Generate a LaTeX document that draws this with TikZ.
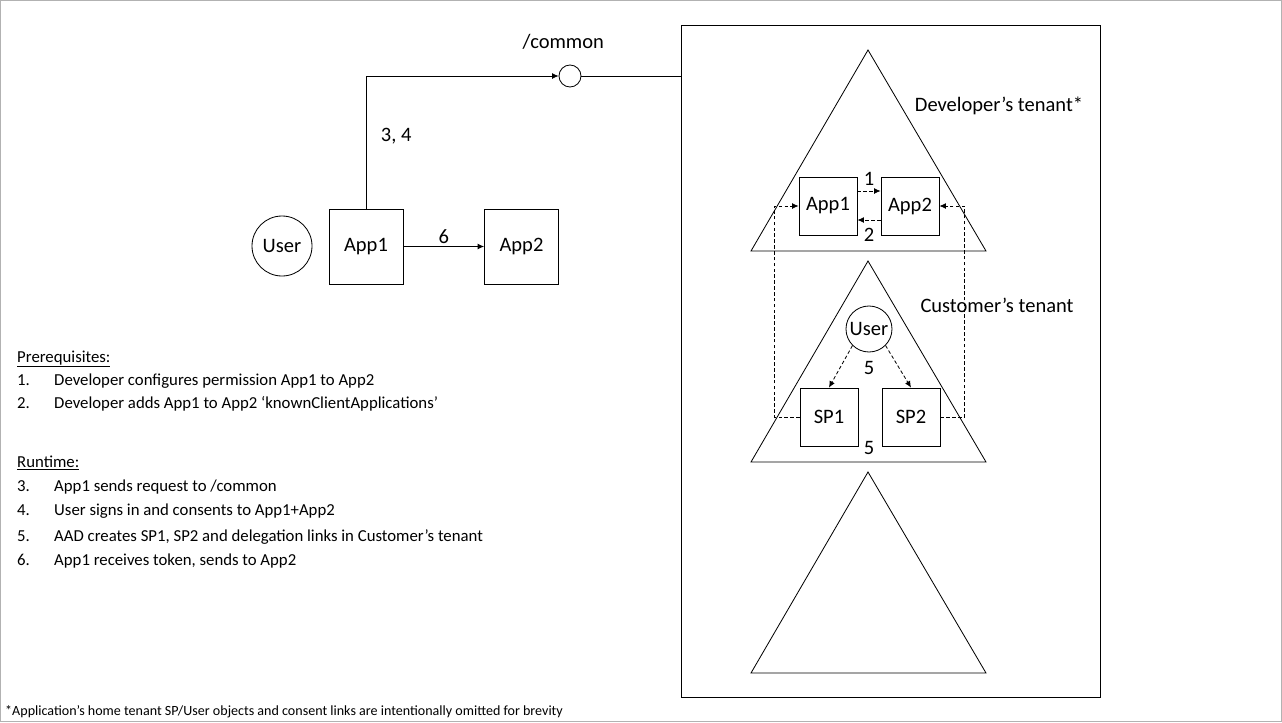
\documentclass[tikz,border=0pt]{standalone}
\usepackage{fontspec}
\setmainfont{Carlito}
\usetikzlibrary{arrows.meta, positioning}
\newcommand{\bodyfs}{\fontsize{17.5pt}{20pt}\selectfont}
\newcommand{\listfs}{\fontsize{14.3pt}{17pt}\selectfont}
\newcommand{\notefs}{\fontsize{12pt}{14pt}\selectfont}
\tikzset{
  appbox/.style={rectangle, draw=black, line width=0.7pt,
                 minimum width=2.22cm, minimum height=2.25cm, font=\bodyfs},
  tbox/.style={rectangle, draw=black, line width=0.7pt,
               minimum width=1.74cm, minimum height=1.74cm, font=\bodyfs},
  actor/.style={circle, draw=black, line width=0.7pt, inner sep=0pt,
                minimum size=1.8cm, font=\bodyfs},
  sactor/.style={circle, draw=black, line width=0.7pt, inner sep=0pt,
                 minimum size=1.38cm, font=\bodyfs},
  endpt/.style={circle, draw=black, line width=0.7pt, inner sep=0pt,
                minimum size=0.66cm},
  panel/.style={rectangle, draw=black, line width=0.7pt, inner sep=0pt,
                minimum width=12.57cm, minimum height=20.16cm},
  arr/.style={-{Latex[length=5.5pt,width=5pt]}, line width=0.7pt},
  darr/.style={-{Latex[length=5.5pt,width=5pt]}, line width=0.7pt,
               dash pattern=on 3pt off 2pt},
  lbl/.style={font=\bodyfs, inner sep=1pt},
  txt/.style={font=\listfs, anchor=base west, inner sep=0pt},
}

\begin{document}
\begin{tikzpicture}[x=0.03cm, y=-0.03cm]
  \useasboundingbox (0,0) rectangle (1282,722);
  \draw[gray!60, line width=0.8pt] (0.5,0.5) rectangle (1281.5,721.5);

  % left side: client view
  \node[actor]  (user)  at (282,246)   {User};
  \node[appbox] (app1)  at (366,246.5) {App1};
  \node[appbox] (app2)  at (521.5,246.5) {App2};
  \node[endpt]  (common) at (570,76) {};
  \node[lbl, above=0.42cm of common, xshift=-0.2cm] (commonlbl) {/common};

  % right side: tenants
  \node[panel, anchor=north west] (panel) at (681,25) {};
  \foreach \ty in {50,261,472}
    \draw[line width=0.7pt] (868,\ty) -- ++(118,201) -- ++(-235,0) -- cycle;
  \node[lbl] (devlbl)  at (999,106) {Developer’s tenant*};
  \node[lbl] (custlbl) at (997,305) {Customer’s tenant};

  \node[tbox]   (dapp1) at (828,206) {App1};
  \node[tbox]   (dapp2) at (910,206) {App2};
  \node[sactor] (cuser) at (869,329) {User};
  \node[tbox]   (sp1)   at (829,417) {SP1};
  \node[tbox]   (sp2)   at (911,417) {SP2};

  \draw[arr](app1.north) |- node[pos=0.275, right=0.4cm, lbl]{3, 4}(common.west);
  \draw[line width=0.7pt](common.east) -- (common.east -| panel.west);
  \draw[arr](app1) -- node[above=1pt, lbl]{6}(app2);

  \draw[darr]([yshift=0.45cm]dapp1.east) -- node[above=3pt, lbl]{1}([yshift=0.45cm]dapp2.west);
  \draw[darr]([yshift=-0.42cm]dapp2.west) -- node[below=6pt, lbl]{2}([yshift=-0.42cm]dapp1.east);
  \draw[darr](sp1.west) -- ++(-25,0) |- (dapp1.west);
  \draw[darr](sp2.east) -- ++(24,0) |- (dapp2.east);
  \draw[darr](cuser.-135) -- (sp1.north);
  \draw[darr](cuser.-45) -- (sp2.north);
  \node[lbl] (five1) at (869,368) {5};
  \node[lbl] (five2) at (869,448) {5};

  % steps
  \node[txt] (pre) at (17,362) {\underline{Prerequisites:}};
  \foreach \y/\n/\t in {385/1./{Developer configures permission App1 to App2},
                         408/2./{Developer adds App1 to App2 ‘knownClientApplications’},
                         491/3./{App1 sends request to /common},
                         515/4./{User signs in and consents to App1+App2},
                         541/5./{AAD creates SP1, SP2 and delegation links in Customer’s tenant},
                         565/6./{App1 receives token, sends to App2}}{
    \node[txt] at (17,\y) {\n};
    \node[txt] at (54,\y) {\t};
  }
  \node[txt] (run) at (17,467) {\underline{Runtime:}};

  \node[font=\notefs, anchor=west, inner sep=0pt] (note) at (5,712)
    {*Application’s home tenant SP/User objects and consent links are intentionally omitted for brevity};
\end{tikzpicture}
\end{document}
